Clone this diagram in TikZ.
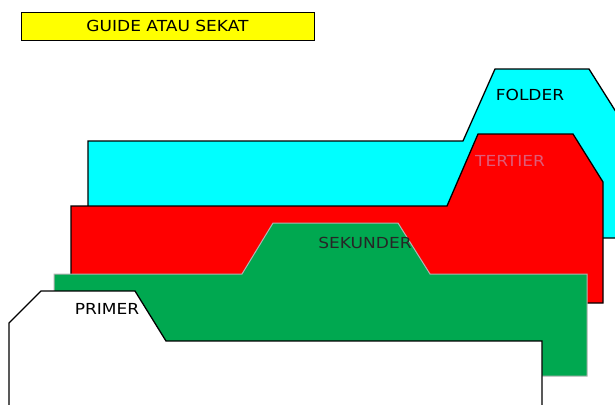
\documentclass[tikz,border=0pt]{standalone}
\usepackage{fontspec}
\setmainfont{DejaVu Sans}[FakeStretch=1.12]
\definecolor{cyanf}{RGB}{0,255,255}
\definecolor{redf}{RGB}{255,0,0}
\definecolor{greenf}{RGB}{0,168,80}
\definecolor{pinkt}{RGB}{222,92,120}
\definecolor{yellowf}{RGB}{255,255,0}
\tikzset{
  tab/.style={line width=1.3pt, draw=black, line join=miter},
  gtab/.style={line width=1pt, draw=black!30, fill=greenf},
  lbl/.style={font=\fontsize{15.2}{17}\selectfont, inner sep=0pt},
}
\begin{document}
\begin{tikzpicture}[x=1pt,y=-1pt]
\useasboundingbox (0,0) rectangle (615,404);
\clip (0,0) rectangle (615,404);
\fill[white] (0,0) rectangle (615,404);
% folder
\draw[tab, fill=cyanf] (88,238) -- (88,141) -- (463,141) -- (495,69) -- (589,69) -- (640,150) -- (640,238) -- cycle;
% tertier
\draw[tab, fill=redf] (71,303) -- (71,206) -- (447,206) -- (478,134) -- (573,134) -- (603,182) -- (603,303) -- cycle;
% sekunder
\draw[gtab] (54,376) -- (54,274) -- (242,274) -- (273,223) -- (398,223) -- (430,274) -- (587,274) -- (587,376) -- cycle;
% primer
\fill[white] (9,420) -- (9,323) -- (41,291) -- (135,291) -- (166,341) -- (542,341) -- (542,420) -- cycle;
\draw[tab] (9,420) -- (9,323) -- (41,291) -- (135,291) -- (166,341) -- (542,341) -- (542,420);
% labels
\node[lbl] (folder) at (530,95) {FOLDER};
\node[lbl, text=pinkt] (tertier) at (510,161) {TERTIER};
\node[lbl, text=black!85] (sekunder) at (365,243) {SEKUNDER};
\node[lbl] (primer) at (107,309) {PRIMER};
\node[lbl, draw=black, line width=0.8pt, fill=yellowf, minimum width=293pt, minimum height=28pt] (guide) at (167.5,26) {GUIDE ATAU SEKAT};
\end{tikzpicture}
\end{document}
